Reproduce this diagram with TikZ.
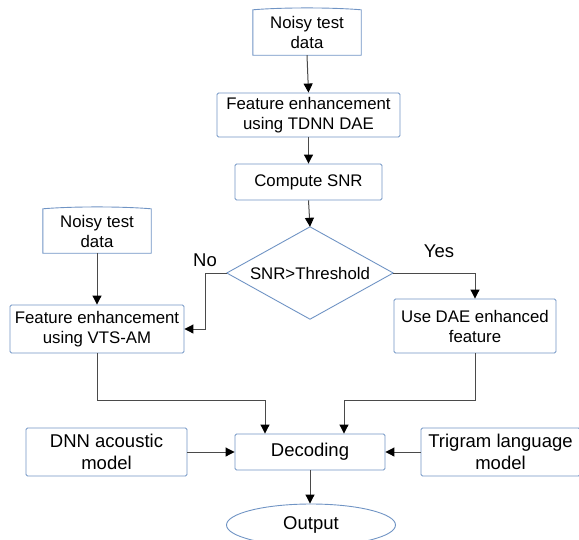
\documentclass[tikz,border=0pt]{standalone}
\usepackage{fontspec}
\setmainfont{Liberation Sans}
\usetikzlibrary{arrows.meta,shapes.geometric}
\definecolor{boxblue}{HTML}{7094C4}
\definecolor{linegray}{HTML}{4A4A4A}
\tikzset{
  box/.style={draw=boxblue, line width=0.9pt, rounded corners=1.5pt, align=center, inner sep=0pt},
  plain/.style={draw=none, align=center, inner sep=0pt},
  conn/.style={draw=linegray, line width=1pt, -{Triangle[length=9pt,width=9pt,color=black,fill=black]}},
  big/.style={font=\fontsize{18.5}{22}\selectfont},
  lbl/.style={draw=none, inner sep=0pt, big}
}
\begin{document}
\begin{tikzpicture}[x=1pt,y=1pt,font=\fontsize{16.8}{20}\selectfont]
\useasboundingbox (0,0) rectangle (579,-539);
% data shapes
\node[plain, minimum width=108, minimum height=45] (d1) at (307,-32.5) {Noisy test\\data};
\draw[boxblue, line width=0.9pt] (d1.north west) .. controls +(30,2.5) and +(-30,2.5) .. (d1.north east) -- (d1.south east) -- (d1.south west) -- cycle;
\node[plain, minimum width=108, minimum height=44] (d2) at (97,-231) {Noisy test\\data};
\draw[boxblue, line width=0.9pt] (d2.north west) .. controls +(30,2.5) and +(-30,2.5) .. (d2.north east) -- (d2.south east) -- (d2.south west) -- cycle;
% boxes
\node[box, minimum width=183, minimum height=44] (tdnn) at (308.5,-115) {Feature enhancement\\using TDNN DAE};
\node[box, minimum width=147, minimum height=36] (snr) at (308.5,-182) {Compute SNR};
\node[plain, minimum width=166, minimum height=92] (dm) at (310,-273) {SNR>Threshold};
\draw[boxblue, line width=0.9pt] (dm.north) -- (dm.east) -- (dm.south) -- (dm.west) -- cycle;
\node[box, minimum width=174, minimum height=48] (vts) at (97,-329) {Feature enhancement\\using VTS-AM};
\node[box, minimum width=162, minimum height=54] (dae) at (475,-326) {Use DAE enhanced\\feature};
\node[box, big, minimum width=161, minimum height=48] (dnn) at (106.5,-452) {DNN acoustic\\model};
\node[box, big, minimum width=150, minimum height=36] (dec) at (310,-452) {Decoding};
\node[box, big, minimum width=159, minimum height=48] (tri) at (500.5,-452) {Trigram language\\model};
\node[ellipse, big, draw=boxblue, line width=0.9pt, minimum width=169, minimum height=42, inner sep=0pt] (out) at (311,-525) {Output};
% labels
\node[lbl] (no) at (205,-260) {No};
\node[lbl] (yes) at (439,-251) {Yes};
% connectors
\draw[conn] (d1.south) -- (tdnn.north);
\draw[conn] (tdnn.south) -- (snr.north);
\draw[conn] (snr.south) -- (dm.north);
\draw[conn] (dm.west) -| ([xshift=21pt]vts.east) -- (vts.east);
\draw[conn] (dm.east) -| (dae.north);
\draw[conn] (d2.south) -- (vts.north);
\coordinate (j1) at (265,-400);
\coordinate (j2) at (344,-400);
\draw[conn] (vts.south) |- (j1) -- (j1 |- dec.north);
\draw[conn] (dae.south) |- (j2) -- (j2 |- dec.north);
\draw[conn] (dnn.east) -- (dec.west);
\draw[conn] (tri.west) -- (dec.east);
\draw[conn] (dec.south) -- (dec.south |- out.north);
\end{tikzpicture}
\end{document}
